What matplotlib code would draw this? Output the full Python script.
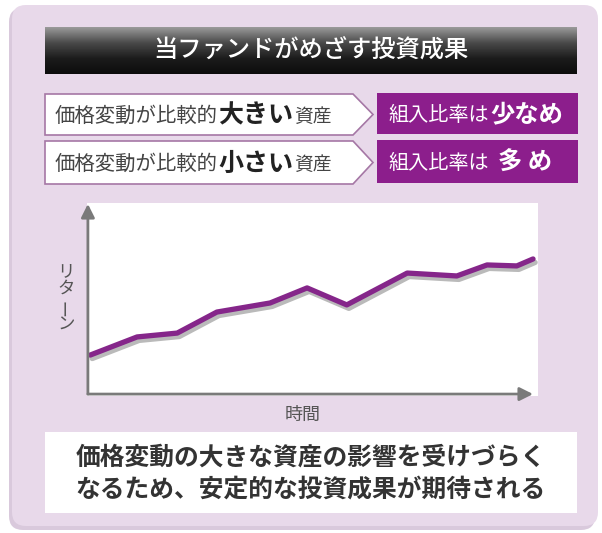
import matplotlib.pyplot as plt
import matplotlib.patheffects as pe
from matplotlib.patches import FancyBboxPatch, Polygon, Rectangle
from matplotlib.colors import LinearSegmentedColormap
import numpy as np

plt.rcParams['font.family'] = ['Noto Sans CJK JP', 'DejaVu Sans']

# data (time 0-100, return 0-100)
time = [0.7, 11.1, 20.0, 28.8, 40.6, 48.8, 57.6, 71.0, 82.0, 88.7, 95.3, 98.9]
ret = [21.2, 30.6, 32.6, 43.5, 48.2, 56.0, 47.2, 63.7, 62.2, 67.9, 67.4, 71.0]

title = "当ファンドがめざす投資成果"
row_small = ["価格変動が比較的", "価格変動が比較的"]
row_big = ["大きい", "小さい"]
row_tail = ["資産", "資産"]
ratio_small = ["組入比率は", "組入比率は"]
ratio_big = ["少なめ", "多 め"]
ylabel_chars = ["リ", "タ", "ー", "ン"]
xlabel = "時間"
note = ["価格変動の大きな資産の影響を受けづらく", "なるため、安定的な投資成果が期待される"]

purple = '#8c1e8c'

fig = plt.figure(figsize=(6.02, 5.33), dpi=100)
bg = fig.add_axes([0, 0, 1, 1])
bg.axis('off')

# lavender panel with a soft shadow
bg.add_patch(FancyBboxPatch((9, 8), 586, 522, boxstyle="round,pad=0,rounding_size=14",
                            fc='#d9c9dc', ec='none'))
bg.add_patch(FancyBboxPatch((12, 5), 586, 521, boxstyle="round,pad=0,rounding_size=14",
                            fc='#e8d9ea', ec='none'))

# title bar with gradient
grad = np.linspace(0, 1, 100).reshape(-1, 1)
cmap = LinearSegmentedColormap.from_list('bar', ['#9a9a9a', '#4a4a4a', '#1c1c1c', '#0c0c0c'])
bg.imshow(grad, extent=(45, 577, 74, 27), aspect='auto', cmap=cmap, zorder=2)
bg.text(311, 50, title, color='white', fontsize=17.5, fontweight='medium',
        ha='center', va='center', zorder=3)

# two rows: arrow-shaped label + purple box
rows_top = [94, 141]
rows_bot = [135, 184]
for i in range(2):
    top = rows_top[i]
    bot = rows_bot[i]
    mid = (top + bot) / 2
    bg.add_patch(Polygon([(45, top), (353, top), (373, mid), (353, bot), (45, bot)],
                         closed=True, fc='white', ec='#a577a5', lw=1.2, zorder=2))
    bg.text(55, mid + 1.5, row_small[i], fontsize=14.7, color='#444444',
            ha='left', va='center', zorder=3)
    bg.text(218, mid + 1, row_big[i], fontsize=18, color='#222222', fontweight='bold',
            ha='left', va='center', zorder=3)
    bg.text(294, mid + 1.5, row_tail[i], fontsize=13.5, color='#444444',
            ha='left', va='center', zorder=3)

    bg.add_patch(Rectangle((377, top - 1), 201, bot - top, fc=purple, ec='none', zorder=2))
    bg.text(389, mid + 1, ratio_small[i], fontsize=14.5, color='white',
            ha='left', va='center', zorder=3)
    bg.text(490 if i == 0 else 498, mid, ratio_big[i], fontsize=17.5, color='white',
            fontweight='bold', ha='left', va='center', zorder=3)

# bottom note box
bg.add_patch(Rectangle((45, 432), 532, 81, fc='white', ec='none', zorder=2))
bg.text(311, 458, note[0], fontsize=17.8, color='#333333', fontweight='bold',
        ha='center', va='center', zorder=3)
bg.text(311, 490, note[1], fontsize=17.8, color='#333333', fontweight='bold',
        ha='center', va='center', zorder=3)

# axis labels
for k, ch in enumerate(ylabel_chars):
    bg.text(66, 271 + k * 18, ch, fontsize=12.5, color='#555555', ha='center', va='center',
            rotation=90 if ch == "ー" else 0, zorder=3)
bg.text(303, 415, xlabel, fontsize=13, color='#555555', ha='center', va='center', zorder=3)

bg.set_xlim(0, 602)
bg.set_ylim(533, 0)

# line chart
ax = fig.add_axes([87 / 602, (533 - 396) / 533, 451 / 602, 193 / 533])
ax.set_xlim(0, 100)
ax.set_ylim(0, 100)
ax.set_facecolor('white')
for s in ax.spines.values():
    s.set_visible(False)
ax.set_xticks([])
ax.set_yticks([])

ax.plot(time, ret, color='#85268a', lw=3.8, solid_joinstyle='round', solid_capstyle='round',
        path_effects=[pe.SimpleLineShadow(offset=(1.5, -2.5), shadow_color='#666666', alpha=0.45),
                      pe.Normal()])

arrow = dict(arrowstyle='-|>', color='#7a7a7a', lw=2, mutation_scale=20, shrinkA=0, shrinkB=0)
a1 = ax.annotate('', xy=(0.2, 99.5), xytext=(0.2, 1.0), arrowprops=arrow, annotation_clip=False)
a2 = ax.annotate('', xy=(98.9, 1.0), xytext=(0.2, 1.0), arrowprops=arrow, annotation_clip=False)
a1.arrow_patch.set_clip_on(False)
a2.arrow_patch.set_clip_on(False)

plt.savefig('out.png', dpi=100)
